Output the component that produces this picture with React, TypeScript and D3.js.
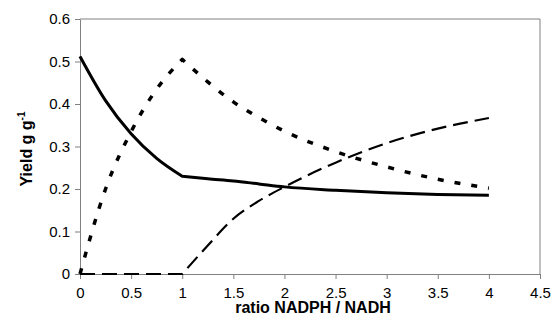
import { useEffect, useRef } from "react";
import * as d3 from "d3";

// ratio NADPH / NADH
const ratios = [0, 0.25, 0.5, 0.75, 1, 1.25, 1.5, 1.75, 2, 2.5, 3, 3.5, 4];
const solidYield = [0.512, 0.408, 0.33, 0.272, 0.23, 0.224, 0.219, 0.212, 0.205, 0.197, 0.191, 0.187, 0.185];
const dottedYield = [0, 0.2, 0.335, 0.435, 0.505, 0.452, 0.405, 0.368, 0.336, 0.288, 0.252, 0.223, 0.202];
const dashedYield = [0, 0, 0, 0, 0, 0.067, 0.13, 0.172, 0.205, 0.262, 0.308, 0.342, 0.367];
const breakRatio = 1; // curves have a kink here

const xTicks = [0, 0.5, 1, 1.5, 2, 2.5, 3, 3.5, 4, 4.5];
const yTicks = [0, 0.1, 0.2, 0.3, 0.4, 0.5, 0.6];

export default function App() {
  const svgRef = useRef<SVGSVGElement>(null);

  useEffect(() => {
    if (!svgRef.current) return;
    const svg = d3.select(svgRef.current);
    svg.selectAll("*").remove();

    const width = 558, height = 327;
    const margin = { top: 19, right: 18, bottom: 53, left: 80 };
    const W = width - margin.left - margin.right;
    const H = height - margin.top - margin.bottom;

    const x = d3.scaleLinear().domain([0, 4.5]).range([0, W]);
    const y = d3.scaleLinear().domain([0, 0.6]).range([H, 0]);
    const font = "Liberation Sans, Arial, sans-serif";

    const g = svg.append("g").attr("transform", `translate(${margin.left},${margin.top})`);

    // plot frame (top + right)
    g.append("path")
      .attr("d", `M0,0H${W}V${H}`)
      .attr("fill", "none").attr("stroke", "#808080").attr("stroke-width", 1);

    const styleAxis = (ax: any) => {
      ax.select(".domain").attr("stroke", "#808080");
      ax.selectAll(".tick line").attr("stroke", "#808080");
      ax.selectAll(".tick text").attr("fill", "#000").attr("font-size", 15).attr("font-family", font);
    };

    g.append("g").attr("transform", `translate(0,${H})`)
      .call(d3.axisBottom(x).tickValues(xTicks).tickFormat(d => String(d)).tickSize(5).tickSizeOuter(0).tickPadding(8))
      .call(styleAxis);

    g.append("g")
      .call(d3.axisLeft(y).tickValues(yTicks).tickFormat(d => String(d)).tickSize(5).tickSizeOuter(0).tickPadding(5))
      .call(styleAxis);

    // series, each drawn as two smooth pieces split at the kink
    const series = [
      { values: solidYield, width: 3, dash: null },
      { values: dottedYield, width: 3.5, dash: "6,11" },
      { values: dashedYield, width: 2.2, dash: "15,7" },
    ];
    const line = d3.line<[number, number]>()
      .x(d => x(d[0])).y(d => y(d[1]))
      .curve(d3.curveMonotoneX);

    series.forEach(s => {
      const pts: [number, number][] = ratios.map((r, i) => [r, s.values[i]]);
      const left = pts.filter(p => p[0] <= breakRatio);
      const right = pts.filter(p => p[0] >= breakRatio);
      const d = (line(left) || "") + (line(right) || "").replace(/^M[^LC]*/, "");
      g.append("path")
        .attr("d", d)
        .attr("fill", "none").attr("stroke", "#000")
        .attr("stroke-width", s.width)
        .attr("stroke-dasharray", s.dash)
        .attr("stroke-linejoin", "round");
    });

    // axis titles
    g.append("text")
      .attr("x", W / 2 + 3).attr("y", H + 39)
      .attr("text-anchor", "middle").attr("font-size", 16).attr("font-weight", "bold")
      .attr("font-family", font).text("ratio NADPH / NADH");

    const yl = svg.append("text")
      .attr("transform", `translate(32,149) rotate(-90)`)
      .attr("text-anchor", "middle").attr("font-size", 16).attr("font-weight", "bold")
      .attr("font-family", font);
    yl.append("tspan").text("Yield g g");
    yl.append("tspan").attr("dy", -7).attr("font-size", 10).text("-1");
  }, []);

  return (
    <svg
      ref={svgRef}
      width={558}
      height={327}
      style={{ position: "absolute", left: 0, top: 0, background: "#fff" }}
    />
  );
}
